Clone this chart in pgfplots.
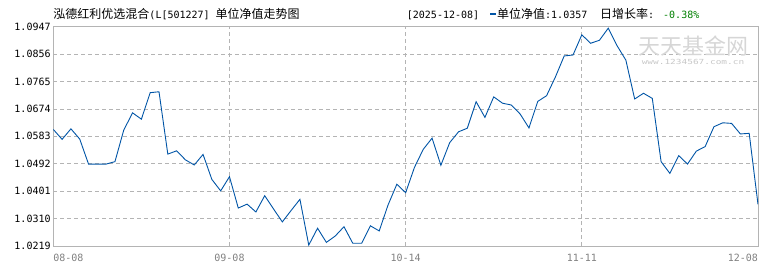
\documentclass[border=0pt]{standalone}
\usepackage{fontspec}
\setmonofont{DejaVu Sans Mono}
\newfontfamily\cjk{Noto Sans CJK SC}
\usepackage{pgfplots}
\pgfplotsset{compat=1.18}
\usepackage{pgfplotstable}
\definecolor{navline}{RGB}{0,84,166}
\definecolor{gridc}{RGB}{180,180,180}
\definecolor{axisc}{RGB}{180,180,180}
\definecolor{tickx}{RGB}{128,128,128}
\definecolor{upgreen}{RGB}{0,128,0}
\pgfplotstableread{
i v
0 1.0606
1 1.0573
2 1.0608
3 1.0574
4 1.0491
5 1.0491
6 1.0491
7 1.0499
8 1.0604
9 1.0661
10 1.0640
11 1.0728
12 1.0731
13 1.0524
14 1.0535
15 1.0505
16 1.0488
17 1.0523
18 1.0440
19 1.0402
20 1.0449
21 1.0345
22 1.0358
23 1.0332
24 1.0386
25 1.0342
26 1.0299
27 1.0337
28 1.0374
29 1.0222
30 1.0278
31 1.0231
32 1.0252
33 1.0283
34 1.0228
35 1.0228
36 1.0286
37 1.0269
38 1.0355
39 1.0424
40 1.0396
41 1.0480
42 1.0540
43 1.0577
44 1.0487
45 1.0562
46 1.0598
47 1.0610
48 1.0698
49 1.0646
50 1.0714
51 1.0693
52 1.0687
53 1.0657
54 1.0611
55 1.0699
56 1.0718
57 1.0780
58 1.0850
59 1.0853
60 1.0920
61 1.0892
62 1.0902
63 1.0942
64 1.0884
65 1.0836
66 1.0707
67 1.0726
68 1.0709
69 1.0499
70 1.0460
71 1.0519
72 1.0491
73 1.0534
74 1.0549
75 1.0615
76 1.0628
77 1.0626
78 1.0591
79 1.0593
80 1.0357
}\navtable
\begin{document}
\begin{tikzpicture}
\path[use as bounding box] (-53.3bp,-24bp) rectangle (716.7bp,246bp);
\begin{axis}[
  scale only axis,
  width=704.7bp, height=219.3bp,
  xmin=0, xmax=80,
  ymin=1.0219, ymax=1.0947,
  axis line style={axisc, line width=0.8bp},
  major tick length=0pt,
  xtick={0,20,40,60,80},
  xticklabels={\makebox[0pt][l]{08-08},09-08,10-14,11-11,\makebox[0pt][r]{12-08}},
  ytick={1.0219,1.0310,1.0401,1.0492,1.0583,1.0674,1.0765,1.0856,1.0947},
  yticklabels={1.0219,1.0310,1.0401,1.0492,1.0583,1.0674,1.0765,1.0856,1.0947},
  xticklabel style={font=\fontsize{10bp}{10bp}\ttfamily, text=tickx, anchor=base, inner sep=0pt, yshift=-15bp},
  yticklabel style={font=\fontsize{10bp}{10bp}\ttfamily, text=black, anchor=east, inner sep=0pt, xshift=-2.5bp},
  grid=major,
  major grid style={gridc, dash pattern=on 4bp off 3bp, line width=0.7bp},
]
\addplot[navline, line width=0.9bp, mark=none] table[x=i, y=v] {\navtable};
\end{axis}
% watermark
\node[anchor=center, text=black!16, inner sep=0pt] at (639.7bp,199.5bp) {\fontsize{22bp}{22bp}\cjk 天天基金网};
\node[anchor=center, text=black!22, inner sep=0pt] at (639.7bp,184bp) {\scalebox{1.35}[1]{\fontsize{7bp}{7bp}\ttfamily www.1234567.com.cn}};
% title
\node[anchor=base west, inner sep=0pt] at (0bp,227.5bp) {\fontsize{12bp}{12bp}\cjk 泓德红利优选混合{\ttfamily\fontsize{10bp}{10bp}\selectfont (L[501227] }单位净值走势图};
% right header
\node[anchor=base west, inner sep=0pt] at (353.4bp,227.3bp) {\fontsize{10bp}{10bp}\ttfamily [2025-12-08]};
\fill[navline] (436.7bp,230.7bp) rectangle (442.7bp,232.9bp);
\node[anchor=base west, inner sep=0pt] at (443.7bp,227.5bp) {\fontsize{12bp}{12bp}\cjk 单位净值{\ttfamily\fontsize{10bp}{10bp}\selectfont :1.0357}};
\node[anchor=base west, inner sep=0pt] at (546.7bp,227.5bp) {\fontsize{12bp}{12bp}\cjk 日增长率{\ttfamily\fontsize{10bp}{10bp}\selectfont :}};
\node[anchor=base west, inner sep=0pt, text=upgreen] at (609.7bp,227.3bp) {\fontsize{10bp}{10bp}\ttfamily -0.38\%};
\end{tikzpicture}
\end{document}
